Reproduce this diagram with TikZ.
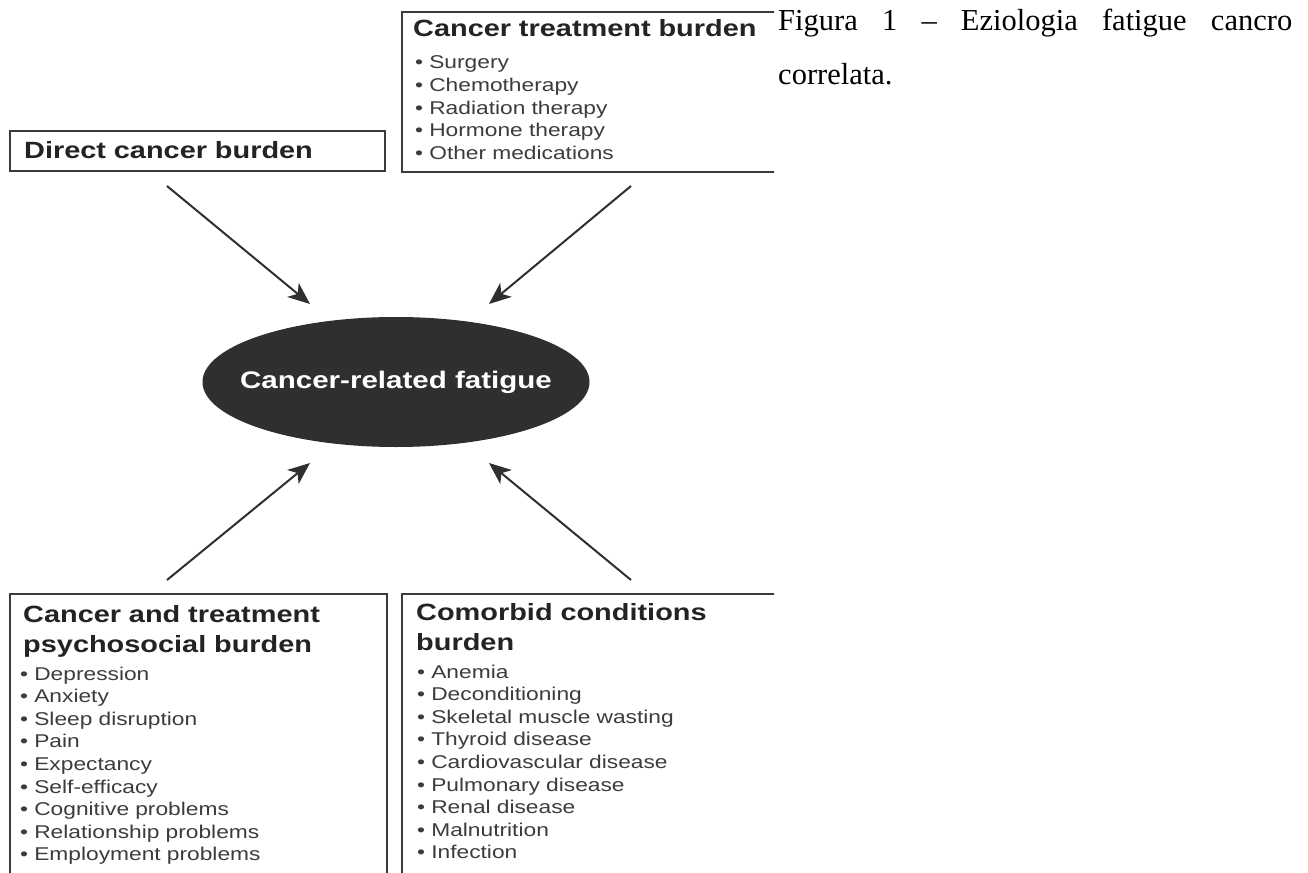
\documentclass[tikz,border=0pt]{standalone}
\usepackage{fontspec}
\setmainfont{Liberation Serif}
\newfontfamily\figsans[FakeStretch=1.23]{Liberation Sans}
\usepackage{tikz}
\usetikzlibrary{arrows.meta,shapes.geometric,positioning}

\definecolor{boxline}{HTML}{3A3A3A}
\definecolor{headtext}{HTML}{232323}
\definecolor{itemtext}{HTML}{3C3C3C}
\definecolor{blob}{HTML}{2F2F2F}

\tikzset{
  box/.style={draw=boxline, line width=2.4pt},
  head/.style={anchor=base west, inner sep=0pt, text width=370pt, align=left,
    text=headtext, font=\figsans\fontsize{23.5}{30}\selectfont\bfseries},
  items/.style={anchor=base west, inner sep=0pt, text width=360pt, align=left,
    text=itemtext, font=\figsans\fontsize{18.5}{22.6}\selectfont},
  arr/.style={draw=blob, line width=2pt, -{Stealth[length=22pt, width=18pt, inset=6pt]}}
}

\begin{document}
\begin{tikzpicture}[x=1pt,y=-1pt]
  \fill[white] (0,0) rectangle (1308,872);
  \useasboundingbox (0,0) rectangle (1308,872);

  \begin{scope}
    \clip (0,0) rectangle (774,872);

    % Draw the four burden boxes
    \draw[box] (10,131) rectangle (385,171);
    \draw[box] (402,12) rectangle (800,172);
    \draw[box] (10,594) rectangle (387,900);
    \draw[box] (402,594) rectangle (800,900);

    \node[head] (dcb) at (24,158.5) {Direct cancer burden};

    \node[head] (ctb) at (413,37) {Cancer treatment burden};
    \node[items] (ctb-list) at (415,69) {\textbullet\ Surgery\\ \textbullet\ Chemotherapy\\
      \textbullet\ Radiation therapy\\ \textbullet\ Hormone therapy\\ \textbullet\ Other medications};

    \node[head] (ctpb) at (23,622) {Cancer and treatment\\ psychosocial burden};
    \node[items] (ctpb-list) at (20,680) {\textbullet\ Depression\\ \textbullet\ Anxiety\\
      \textbullet\ Sleep disruption\\ \textbullet\ Pain\\ \textbullet\ Expectancy\\
      \textbullet\ Self-efficacy\\ \textbullet\ Cognitive problems\\
      \textbullet\ Relationship problems\\ \textbullet\ Employment problems};

    \node[head] (ccb) at (416,620) {Comorbid conditions\\ burden};
    \node[items] (ccb-list) at (417,678) {\textbullet\ Anemia\\ \textbullet\ Deconditioning\\
      \textbullet\ Skeletal muscle wasting\\ \textbullet\ Thyroid disease\\
      \textbullet\ Cardiovascular disease\\ \textbullet\ Pulmonary disease\\
      \textbullet\ Renal disease\\ \textbullet\ Malnutrition\\ \textbullet\ Infection};

    % Draw the central ellipse
    \node[ellipse, fill=blob, inner sep=0pt, minimum width=387pt, minimum height=130pt,
      label={[text=white, font=\figsans\fontsize{24}{28}\selectfont\bfseries]center:Cancer-related fatigue}]
      (crf) at (396,382) {};

    % Arrow ends
    \coordinate (dcb-out) at (167,186);
    \coordinate (ctb-out) at (631,186);
    \coordinate (ctpb-out) at (167,580);
    \coordinate (ccb-out) at (631,580);
    \coordinate (crf-nw) at (310,304);
    \coordinate (crf-ne) at (489,304);
    \coordinate (crf-sw) at (310,463);
    \coordinate (crf-se) at (489,463);

    \draw[arr] (dcb-out) -- (crf-nw);
    \draw[arr] (ctb-out) -- (crf-ne);
    \draw[arr] (ctpb-out) -- (crf-sw);
    \draw[arr] (ccb-out) -- (crf-se);
  \end{scope}

  % Caption on the right
  \node[anchor=base west, inner sep=0pt, text width=514pt, align=left,
    font=\fontsize{30.5}{54}\selectfont] (cap) at (778,31)
    {\makebox[514pt][l]{Figura\hfill 1\hfill –\hfill Eziologia\hfill fatigue\hfill cancro}\\ correlata.};
\end{tikzpicture}
\end{document}
